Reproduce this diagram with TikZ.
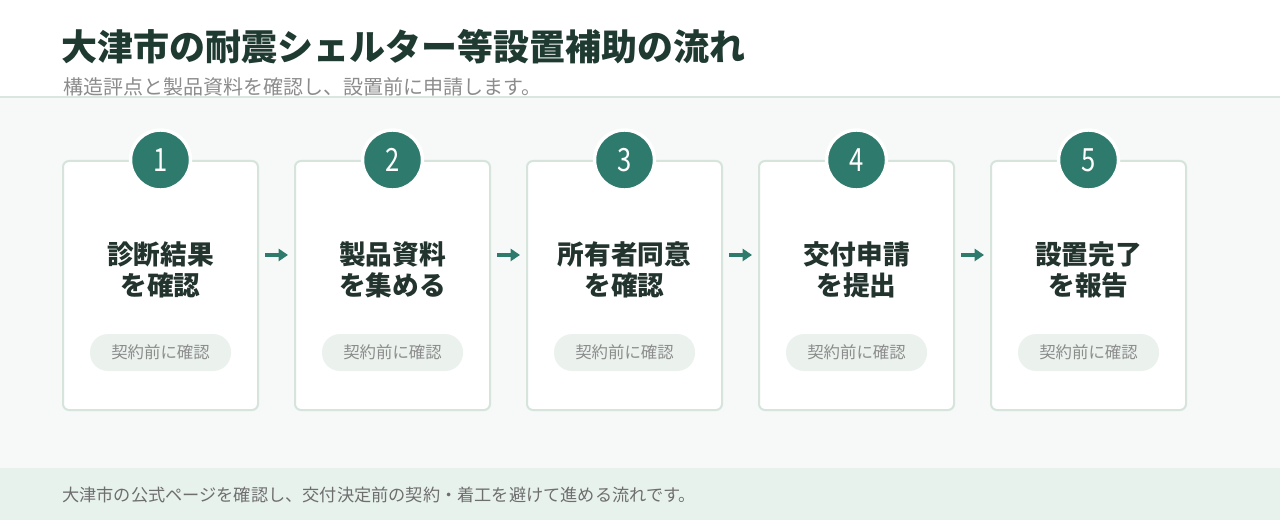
\documentclass[tikz,border=0pt]{standalone}
\usepackage{fontspec}
\setmainfont{Noto Sans CJK JP}
\newfontfamily\jpmed{Noto Sans CJK JP}[UprightFont=* Medium,BoldFont=* Bold]
\usetikzlibrary{arrows.meta,positioning}
\definecolor{teal1}{HTML}{2E7A6D}
\definecolor{darktxt}{HTML}{1F3A30}
\definecolor{cardtxt}{HTML}{22342D}
\definecolor{bordr}{HTML}{D6E4DC}
\definecolor{band}{HTML}{F6F9F7}
\definecolor{foot}{HTML}{E8F2ED}
\definecolor{pill}{HTML}{EBF2EE}
\definecolor{greytxt}{HTML}{8C8C8C}
\definecolor{foottxt}{HTML}{6E6E6E}
\definecolor{hline}{HTML}{DCE6E0}
\tikzset{
  card/.style={draw=bordr,line width=1.5pt,fill=white,rounded corners=4.5pt,minimum width=146.25pt,minimum height=186.75pt,inner sep=0pt},
  badge/.style={circle,fill=teal1,draw=white,line width=2.6pt,minimum size=45pt,inner sep=0pt,text=white,font=\fontsize{24}{24}\selectfont},
  ctitle/.style={align=center,text=cardtxt,font=\fontsize{20}{23}\selectfont\bfseries,inner sep=0pt},
  pillbox/.style={fill=pill,rounded corners=13.5pt,minimum width=105.75pt,minimum height=27.75pt,inner sep=0pt,text=greytxt,font=\fontsize{12.3}{12.3}\selectfont},
  arr/.style={draw=teal1,line width=2.3pt,-{Triangle[length=7pt,width=9pt]}}
}
\begin{document}
\begin{tikzpicture}[x=0.75pt,y=-0.75pt]
\useasboundingbox (0,0) rectangle (1280,520);
\fill[white] (0,0) rectangle (1280,97);
\fill[band] (0,97) rectangle (1280,468);
\fill[foot] (0,468) rectangle (1280,520);
\draw[hline,line width=1.2pt] (0,97) -- (1280,97);
\node[anchor=west,inner sep=0pt,text=darktxt,font=\fontsize{27}{27}\selectfont\bfseries] (title) at (61,47) {大津市の耐震シェルター等設置補助の流れ};
\node[anchor=west,inner sep=0pt,text=greytxt,font=\fontsize{15}{15}\selectfont] (sub) at (63,87) {構造評点と製品資料を確認し、設置前に申請します。};
\node[anchor=west,inner sep=0pt,text=foottxt,font=\fontsize{12.9}{12.9}\selectfont] (foot) at (62,495) {大津市の公式ページを確認し、交付決定前の契約・着工を避けて進める流れです。};
\foreach \i/\t/\n in {1/{診断結果\\を確認}/1,2/{製品資料\\を集める}/2,3/{所有者同意\\を確認}/3,4/{交付申請\\を提出}/4,5/{設置完了\\を報告}/5}{
  \pgfmathsetmacro{\cx}{160.5+232*(\i-1)}
  \node[card] (c\i) at (\cx,285.5) {};
  \node[badge] (b\i) at (\cx,160) {\scalebox{0.8}[1]{\n}};
  \node[ctitle] (t\i) at (\cx,270) {\t};
  \node[pillbox] (p\i) at (\cx,352.5) {契約前に確認};
}
\foreach \a/\b in {1/2,2/3,3/4,4/5}{
  \draw[arr] ([xshift=4.5pt,yshift=22.9pt]c\a.east) -- ([xshift=-4.5pt,yshift=22.9pt]c\b.west);
}
\end{tikzpicture}
\end{document}
